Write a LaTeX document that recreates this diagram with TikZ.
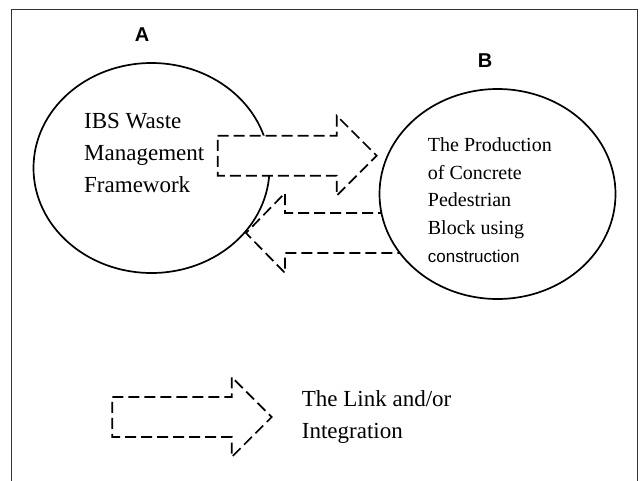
\documentclass[tikz,border=0pt]{standalone}
\usepackage{fontspec}
\setmainfont{Liberation Serif}
\setsansfont{Liberation Sans}
\usetikzlibrary{shapes.geometric}
\tikzset{
  bubble/.style={ellipse, draw, line width=1.7pt, fill=white, minimum width=236pt, minimum height=210pt, inner sep=0pt},
  linkarrow/.style={draw, line width=1.7pt, fill=white, dash pattern=on 11pt off 5pt},
  tag/.style={font=\sffamily\bfseries\fontsize{20}{24}\selectfont, inner sep=0pt, anchor=base},
  bodytext/.style={align=left, inner sep=0pt, anchor=north west},
  frame/.style={draw=black!80, line width=1.4pt}
}
\begin{document}
\begin{tikzpicture}[x=1pt, y=-1pt]
  \fill[white] (0,0) rectangle (642,480);
  \useasboundingbox (0,0) rectangle (642,480);

  % Outer frame
  \draw[frame] (11.7,490) -- (11.7,9.3) -- (637.5,9.3) -- (637.5,490);

  % Link from B back to A (under both circles)
  \coordinate (ba tail) at (405,233);
  \draw[linkarrow] (ba tail) ++(0,-20) -- ++(-120,0) -- ++(0,-20) -- ++(-39,40) -- ++(39,40) -- ++(0,-20) -- ++(120,0) -- cycle;

  % The two parts
  \node[bubble] (a) at (151.5,168) {};
  \node[bubble] (b) at (497.5,194) {};
  \node[tag] (a label) at (142,41.7) {A};
  \node[tag] (b label) at (485,67.5) {B};

  \node[bodytext, font=\fontsize{23}{32}\selectfont] (a text) at (84,112.8) {IBS Waste\\Management\\Framework};
  \node[bodytext, font=\fontsize{20}{27.8}\selectfont] (b text) at (427.7,137.3)
    {The Production\\of Concrete\\Pedestrian\\Block using\\{\sffamily\fontsize{17}{27.8}\selectfont construction}};

  % Link from A to B (over circle A)
  \coordinate (ab tail) at (217.7,155.7);
  \draw[linkarrow] (ab tail) ++(0,-20) -- ++(119,0) -- ++(0,-20) -- ++(40,40) -- ++(-40,40) -- ++(0,-20) -- ++(-119,0) -- cycle;

  % Key
  \coordinate (key tail) at (112.3,417);
  \draw[linkarrow] (key tail) ++(0,-20) -- ++(119.4,0) -- ++(0,-20) -- ++(40,40) -- ++(-40,40) -- ++(0,-20) -- ++(-119.4,0) -- cycle;
  \node[bodytext, font=\fontsize{23}{32}\selectfont] (key text) at (301.7,390.3) {The Link and/or\\Integration};
\end{tikzpicture}
\end{document}
